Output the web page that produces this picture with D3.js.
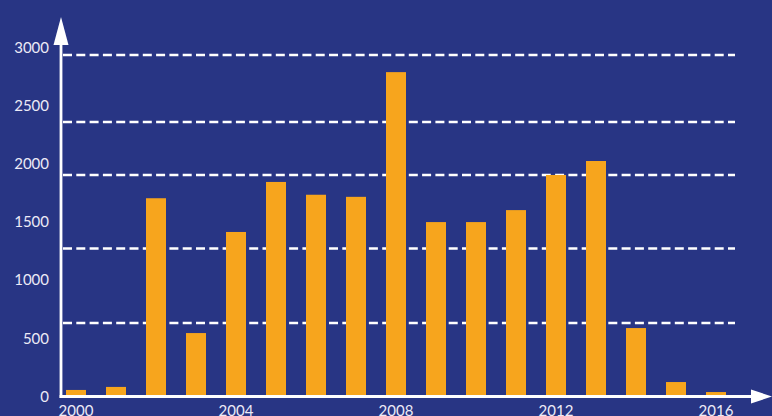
<!DOCTYPE html>
<html>
<head>
<meta charset="utf-8">
<script src="https://cdn.jsdelivr.net/npm/d3@7"></script>
<style>
  html, body { margin: 0; padding: 0; background: #283584; overflow: hidden; }
  svg { display: block; }
  .tick text { font-family: Lato, "Open Sans", sans-serif; font-size: 15px; fill: #eceaf6; }
</style>
</head>
<body>
<svg id="chart" width="772" height="416"></svg>
<script>
// DATA
const years = [2000, 2001, 2002, 2003, 2004, 2005, 2006, 2007, 2008, 2009, 2010, 2011, 2012, 2013, 2014, 2015, 2016];
const counts = [52, 78, 1700, 541, 1410, 1840, 1730, 1712, 2784, 1495, 1495, 1598, 1900, 2020, 584, 120, 34];
const yTicks = [0, 500, 1000, 1500, 2000, 2500, 3000];
const xTickLabels = [2000, 2004, 2008, 2012, 2016];
// dashed guide lines (they do not sit on the tick values in the original)
const guideValues = [627, 1268, 1900, 2355, 2931];

const width = 772, height = 416;
const axisX = 61, axisY = 396.5;

const svg = d3.select("#chart");

const x = d3.scaleBand()
    .domain(years)
    .range([56, 736])
    .paddingInner(0.5)
    .paddingOuter(0.25);

const y = d3.scaleLinear()
    .domain([0, 3000])
    .range([396, 47]);

// GRID
svg.append("g")
    .selectAll("line")
    .data(guideValues)
    .enter().append("line")
    .attr("x1", axisX + 2)
    .attr("x2", 735)
    .attr("y1", d => y(d))
    .attr("y2", d => y(d))
    .attr("stroke", "#ffffff")
    .attr("stroke-width", 2.4)
    .attr("stroke-dasharray", "9,4.3");

// BARS
svg.append("g")
    .selectAll("rect")
    .data(years)
    .enter().append("rect")
    .attr("x", d => x(d))
    .attr("width", x.bandwidth())
    .attr("y", (d, i) => y(counts[i]))
    .attr("height", (d, i) => y(0) - y(counts[i]))
    .attr("fill", "#f7a51d");

// Y AXIS LABELS
const yAxis = d3.axisLeft(y).tickValues(yTicks).tickFormat(d3.format("d")).tickSize(0).tickPadding(12);
svg.append("g")
    .attr("transform", "translate(" + axisX + ",0)")
    .call(yAxis)
    .call(g => g.select(".domain").remove())
    .selectAll("text")
    .attr("dy", "0.35em");

// X AXIS LABELS
const xAxis = d3.axisBottom(x).tickValues(xTickLabels).tickFormat(d3.format("d")).tickSize(0).tickPadding(9);
svg.append("g")
    .attr("transform", "translate(0," + axisY + ")")
    .call(xAxis)
    .call(g => g.select(".domain").remove())
    .selectAll("text")
    .attr("dy", "0.72em");

// AXIS LINES + ARROWS
svg.append("line")
    .attr("x1", axisX).attr("x2", axisX)
    .attr("y1", 44).attr("y2", axisY + 1.5)
    .attr("stroke", "#ffffff").attr("stroke-width", 2.8);
svg.append("line")
    .attr("x1", axisX - 1.4).attr("x2", 752)
    .attr("y1", axisY).attr("y2", axisY)
    .attr("stroke", "#ffffff").attr("stroke-width", 2.8);
svg.append("path")
    .attr("d", "M" + axisX + ",17 L" + (axisX + 7.5) + ",45 L" + (axisX - 7.5) + ",45 Z")
    .attr("fill", "#ffffff");
svg.append("path")
    .attr("d", "M772," + axisY + " L751," + (axisY - 7) + " L751," + (axisY + 7) + " Z")
    .attr("fill", "#ffffff");
</script>
</body>
</html>
